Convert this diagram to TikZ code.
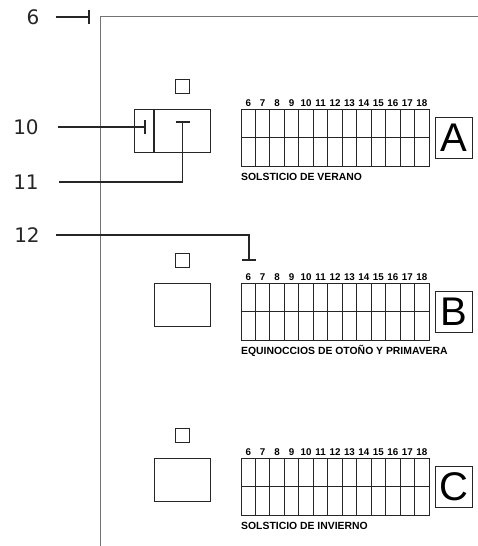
\documentclass[tikz,border=0pt]{standalone}
\usepackage{fontspec}
\setmainfont{Liberation Sans}
\newfontfamily\calloutfont{DejaVu Sans}
\usetikzlibrary{arrows.meta,positioning}

\tikzstyle{frame} = [draw=black!55, line width=1pt]
\tikzstyle{leader} = [draw=black!85, line width=1.8pt,
  -{Bar[width=14pt,line width=1.8pt]}]
\tikzstyle{callout} = [text=black!85, inner sep=0pt,
  font=\calloutfont\fontsize{20}{24}\selectfont]
\tikzstyle{clock} = [draw=black!85, line width=0.9pt, rectangle,
  minimum width=188pt, minimum height=57pt, inner sep=0pt]
\tikzstyle{hour} = [inner sep=0pt, font=\bfseries\fontsize{9.8}{10}\selectfont]
\tikzstyle{caption} = [inner sep=0pt, anchor=west,
  font=\bfseries\fontsize{10.4}{11}\selectfont]
\tikzstyle{season} = [draw=black!85, line width=0.9pt, rectangle,
  minimum width=37pt, minimum height=41pt, inner sep=0pt,
  font=\fontsize{40}{40}\selectfont]
\tikzstyle{lamp} = [draw=black!85, line width=0.9pt, rectangle,
  minimum size=14pt, inner sep=0pt]
\tikzstyle{panel} = [draw=black!85, line width=0.9pt, rectangle,
  minimum width=56pt, minimum height=43pt, inner sep=0pt]

\begin{document}
\begin{tikzpicture}[x=1pt, y=-1pt]
        \useasboundingbox (0,0) rectangle (478,546);

        % frame
        \draw[frame] (100,546) -- (100,16) -- (478,16);

        % the three clock panels
        \foreach \g/\y/\txt in {A/137.5/SOLSTICIO DE VERANO,
                                B/311.5/EQUINOCCIOS DE OTOÑO Y PRIMAVERA,
                                C/486.5/SOLSTICIO DE INVIERNO} {
          \node [clock]  (tab\g) at (335,\y)     {};
          \node [season] (sea\g) at (453.5,\y)   {\g};
          \node [lamp]   (lamp\g) at (182.5,\y-51) {};
          \node [panel]  (panel\g) at (182,\y-7)  {};
          \node [caption] (cap\g) at (241,\y+39.5) {\txt};
          \draw[black!85, line width=0.9pt] (tab\g.west) -- (tab\g.east);
          \foreach \i in {1,...,12}
            \draw[black!85, line width=0.9pt]
              ({241+\i*188/13}, \y-28.5) -- ++(0,57);
          \foreach \h [count=\i] in {6,...,18}
            \node [hour] at ({241+(\i-0.5)*188/13}, \y-34.5) {\h};
        }
        \node [panel, minimum width=19pt, left=0pt of panelA] (switchA) {};

        % callouts
        \node [callout] (l6)  at (33,17)  {6};
        \node [callout] (l10) at (26,127) {10};
        \node [callout] (l11) at (26,182) {11};
        \node [callout] (l12) at (27,235) {12};

        \coordinate (tip10) at (146,127);
        \coordinate (tip11) at (182.5,121);
        \coordinate (tip12) at (249,261);

        \draw[leader] (l6.east) ++(16pt,0) -- ++(34pt,0);
        \draw[leader] (l10.east) ++(19pt,0) -- (tip10);
        \draw[leader] (l11.east) ++(20pt,0) -| (tip11);
        \draw[leader] (l12.east) ++(16pt,0) -| (tip12);
      \end{tikzpicture}
\end{document}
